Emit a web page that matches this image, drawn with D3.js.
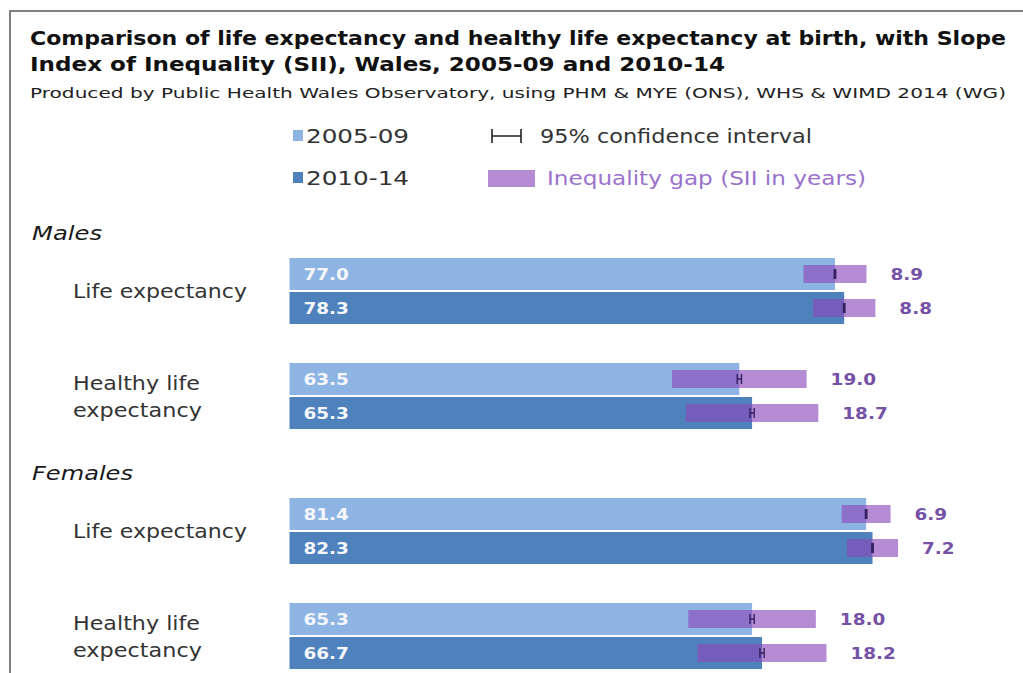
<!DOCTYPE html>
<html>
<head>
<meta charset="utf-8">
<script src="https://cdn.jsdelivr.net/npm/d3@7"></script>
<style>
  html, body { margin: 0; padding: 0; background: #ffffff; }
  svg { display: block; }
</style>
</head>
<body>
<svg id="chart" width="1023" height="673"></svg>
<script>
// ---------------- data ----------------
const titleLines = [
  "Comparison of life expectancy and healthy life expectancy at birth, with Slope",
  "Index of Inequality (SII), Wales, 2005-09 and 2010-14"
];
const subtitle = "Produced by Public Health Wales Observatory, using PHM & MYE (ONS), WHS & WIMD 2014 (WG)";
const sexes = ["Males", "Females"];
const measures = ["Life expectancy", "Healthy life expectancy"];
const measureLabelLines = [["Life expectancy"], ["Healthy life", "expectancy"]];
const periods = ["2005-09", "2010-14"];
// order: Males LE, Males HLE, Females LE, Females HLE
const value0509 = [77.0, 63.5, 81.4, 65.3];
const value1014 = [78.3, 65.3, 82.3, 66.7];
const sii0509 = [8.9, 19.0, 6.9, 18.0];
const sii1014 = [8.8, 18.7, 7.2, 18.2];
const ciLow0509 = [76.9, 63.2, 81.3, 65.0];
const ciHigh0509 = [77.1, 63.8, 81.5, 65.6];
const ciLow1014 = [78.2, 65.0, 82.2, 66.4];
const ciHigh1014 = [78.4, 65.6, 82.4, 67.0];
const legendCI = "95% confidence interval";
const legendGap = "Inequality gap (SII in years)";

// ---------------- styles ----------------
const colLight = "#8db4e2";
const colDark = "#4f81bd";
const gapColor = "rgb(139,74,186)";
const gapOpacity = 0.64;
const ciColor = "#35205f";
const siiText = "#7652a6";
const font = "'DejaVu Sans', Verdana, sans-serif";

const svg = d3.select("#chart");

function fit(sel, w) {
  sel.attr("textLength", w).attr("lengthAdjust", "spacingAndGlyphs");
  return sel;
}
function stretch(sel, k) {
  sel.each(function () {
    const len = this.getComputedTextLength();
    d3.select(this).attr("textLength", len * k).attr("lengthAdjust", "spacingAndGlyphs");
  });
  return sel;
}

// frame
svg.append("line").attr("x1", 10).attr("x2", 1023).attr("y1", 11).attr("y2", 11)
  .attr("stroke", "#7f7f7f").attr("stroke-width", 2);
svg.append("line").attr("x1", 10).attr("x2", 10).attr("y1", 10).attr("y2", 673)
  .attr("stroke", "#7f7f7f").attr("stroke-width", 2);

// titles
const titleWidths = [976, 695];
titleLines.forEach((t, i) => {
  fit(svg.append("text").attr("x", 30).attr("y", 45 + i * 26)
    .attr("font-family", font).attr("font-weight", "bold").attr("font-size", 19)
    .attr("fill", "#111").text(t), titleWidths[i]);
});
fit(svg.append("text").attr("x", 30).attr("y", 98)
  .attr("font-family", font).attr("font-size", 14.5)
  .attr("fill", "#222").text(subtitle), 976);

// legend
const legendY = d3.scalePoint().domain(periods).range([136, 178]);
const legCol = d3.scaleOrdinal().domain(periods).range([colLight, colDark]);
periods.forEach(p => {
  svg.append("rect").attr("x", 293).attr("y", legendY(p) - 6).attr("width", 10).attr("height", 11)
    .attr("fill", legCol(p));
  fit(svg.append("text").attr("x", 306).attr("y", legendY(p)).attr("dy", "0.36em")
    .attr("font-family", font).attr("font-size", 19).attr("fill", "#333").text(p), 103);
});
// CI symbol
const ly = legendY(periods[0]);
svg.append("path").attr("d", `M492,${ly - 7}V${ly + 7}M492,${ly}H521M521,${ly - 7}V${ly + 7}`)
  .attr("stroke", "#222").attr("stroke-width", 1.6).attr("fill", "none");
fit(svg.append("text").attr("x", 540).attr("y", ly).attr("dy", "0.36em")
  .attr("font-family", font).attr("font-size", 19).attr("fill", "#333").text(legendCI), 272);
const ly2 = legendY(periods[1]);
svg.append("rect").attr("x", 488).attr("y", ly2 - 8).attr("width", 47).attr("height", 17)
  .attr("fill", gapColor).attr("fill-opacity", gapOpacity);
fit(svg.append("text").attr("x", 547).attr("y", ly2).attr("dy", "0.36em")
  .attr("font-family", font).attr("font-size", 19).attr("fill", "#9a72cc").text(legendGap), 319);

// scales
const x = d3.scaleLinear().domain([0, 100]).range([289.5, 997.9]);
const ySex = d3.scaleBand().domain(sexes).range([220, 700]);
const yMeasure = d3.scaleBand().domain(measures).range([38, 209]).paddingInner(0.3714);
const yPeriod = d3.scaleBand().domain(periods).range([0, 66]).paddingInner(2 / 34);

const rows = [];
sexes.forEach((s, si) => measures.forEach((m, mi) => {
  const i = si * 2 + mi;
  rows.push({ sex: s, measure: m, mi, period: periods[0], value: value0509[i], sii: sii0509[i], lo: ciLow0509[i], hi: ciHigh0509[i] });
  rows.push({ sex: s, measure: m, mi, period: periods[1], value: value1014[i], sii: sii1014[i], lo: ciLow1014[i], hi: ciHigh1014[i] });
}));
const barTop = d => ySex(d.sex) + yMeasure(d.measure) + yPeriod(d.period);
const barMid = d => barTop(d) + yPeriod.bandwidth() / 2;

// section headers
sexes.forEach(s => {
  fit(svg.append("text").attr("x", 32).attr("y", ySex(s) + 20)
    .attr("font-family", font).attr("font-style", "italic").attr("font-size", 19)
    .attr("fill", "#1a1a1a").text(s), s === "Males" ? 70 : 101);
});

// row labels
const labelWidths = { "Life expectancy": 174, "Healthy life": 127, "expectancy": 129 };
sexes.forEach(s => measures.forEach((m, mi) => {
  const lines = measureLabelLines[mi];
  const c = ySex(s) + yMeasure(m) + yMeasure.bandwidth() / 2;
  lines.forEach((ln, k) => {
    const off = lines.length === 1 ? 0 : (k === 0 ? -13 : 14);
    fit(svg.append("text").attr("x", 73).attr("y", c + off).attr("dy", "0.36em")
      .attr("font-family", font).attr("font-size", 19).attr("fill", "#333").text(ln), labelWidths[ln]);
  });
}));

// bars
svg.append("g").selectAll("rect").data(rows).join("rect")
  .attr("x", x(0)).attr("y", barTop)
  .attr("width", d => x(d.value) - x(0)).attr("height", yPeriod.bandwidth())
  .attr("fill", d => legCol(d.period));

// value labels
stretch(svg.append("g").selectAll("text").data(rows).join("text")
  .attr("x", x(0) + 14).attr("y", barMid).attr("dy", "0.36em")
  .attr("font-family", font).attr("font-weight", "bold").attr("font-size", 16)
  .attr("fill", "#f4f7fc").text(d => d.value.toFixed(1)), 1.15);

// inequality gap bars
const gapH = 18;
svg.append("g").selectAll("rect").data(rows).join("rect")
  .attr("x", d => x(d.value - d.sii / 2)).attr("y", d => barMid(d) - gapH / 2)
  .attr("width", d => x(d.value + d.sii / 2) - x(d.value - d.sii / 2)).attr("height", gapH)
  .attr("fill", gapColor).attr("fill-opacity", gapOpacity);

// confidence intervals
svg.append("g").selectAll("path").data(rows).join("path")
  .attr("d", d => {
    const m = barMid(d), a = x(d.lo), b = x(d.hi);
    return `M${a},${m - 5}V${m + 5}M${a},${m}H${b}M${b},${m - 5}V${m + 5}`;
  })
  .attr("stroke", ciColor).attr("stroke-width", 1.4).attr("fill", "none");

// SII labels
stretch(svg.append("g").selectAll("text").data(rows).join("text")
  .attr("x", d => x(d.value + d.sii / 2) + 24).attr("y", barMid).attr("dy", "0.36em")
  .attr("font-family", font).attr("font-weight", "bold").attr("font-size", 16)
  .attr("fill", siiText).text(d => d.sii.toFixed(1)), 1.15);
</script>
</body>
</html>
